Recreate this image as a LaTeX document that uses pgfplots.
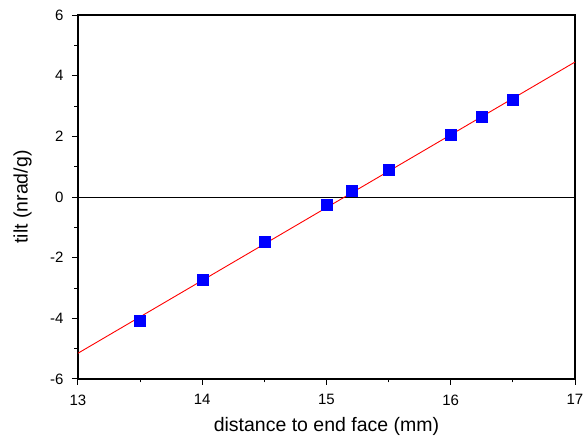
\documentclass[border=0pt]{standalone}
\usepackage{pgfplots}
\pgfplotsset{compat=1.18}
\usepackage{fontspec}
\setmainfont{Liberation Sans}
\begin{document}
\begin{tikzpicture}
\path[use as bounding box] (-78pt,-60pt) rectangle (506pt,379pt);
\begin{axis}[
  at={(0,0)}, anchor=south west,
  scale only axis, width=497pt, height=364pt,
  xmin=13, xmax=17, ymin=-6, ymax=6,
  xtick={13,14,15,16,17}, ytick={-6,-4,-2,0,2,4,6},
  minor x tick num=1, minor y tick num=1,
  tick pos=left, tick align=outside,
  major tick length=6pt, minor tick length=3.5pt,
  axis line style={line width=1.1pt},
  every tick/.style={black, line width=1pt},
  /pgf/number format/assume math mode=true,
  tick label style={font=\fontsize{15pt}{17pt}\selectfont},
  yticklabel style={/pgf/number format/fixed},
  xlabel={distance to end face (mm)},
  ylabel={tilt (nrad/g)},
  label style={font=\fontsize{19.5pt}{22pt}\selectfont},
  xlabel style={at={(axis description cs:0.5,-0.1456)}, anchor=base},
  ylabel style={at={(axis description cs:-0.1117,0.5)}, anchor=center},
  xticklabel style={yshift=-6pt},
  yticklabel style={xshift=-5pt},
  clip=true,
]
\addplot[black, line width=1pt, forget plot] coordinates {(13,0) (17,0)};
\addplot[red, line width=0.9pt, forget plot] coordinates {(13,-5.15) (17,4.45)};
\addplot[only marks, mark=square*, mark size=5.5pt, mark options={fill=blue, draw=blue}] coordinates {
(13.5,-4.09) (14.0,-2.74) (14.5,-1.48) (15.0,-0.26) (15.2,0.2) (15.5,0.89) (16.0,2.04) (16.25,2.64) (16.5,3.2)
};
\end{axis}
\end{tikzpicture}
\end{document}
